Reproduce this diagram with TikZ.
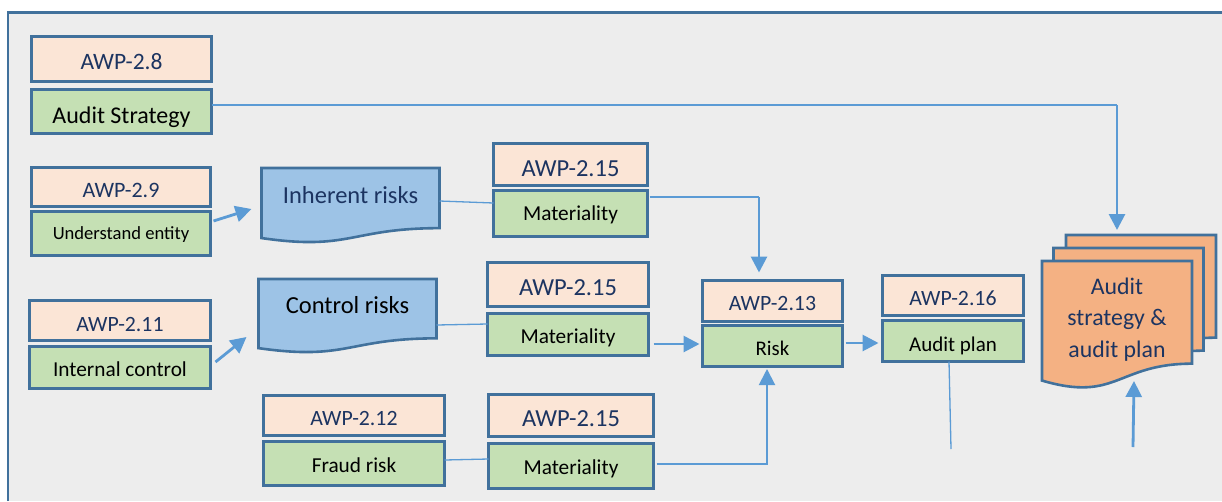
\documentclass[tikz,border=0pt]{standalone}
\usepackage{fontspec}
\setmainfont{Carlito}
\usetikzlibrary{arrows.meta,calc}

\definecolor{framec}{HTML}{41719C}
\definecolor{linkc}{HTML}{5B9BD5}
\definecolor{paper}{HTML}{EDEDED}
\definecolor{pinkf}{HTML}{FBE5D6}
\definecolor{greenf}{HTML}{C5E0B4}
\definecolor{bluef}{HTML}{9DC3E6}
\definecolor{orangef}{HTML}{F4B183}
\definecolor{navy}{HTML}{1C3461}

\pgfdeclarelayer{framelayer}
\pgfdeclarelayer{sheets}
\pgfsetlayers{framelayer,sheets,main}

\newcommand\fs[1]{\fontsize{#1}{#1}\selectfont}

% outline of a document sheet (wavy bottom) around a named node
\newcommand\sheetoutline[2]{%
  \path[sheetline, fill=#2] (#1.north west) -- (#1.north east)
    -- ($(#1.north east)!0.802!(#1.south east)$)
    .. controls ($(#1.north)!0.802!(#1.south)$) and ($(#1.north)!1.107!(#1.south)$)
    .. ($(#1.north west)!0.934!(#1.south west)$) -- cycle;}

\tikzset{
  box/.style={draw=framec, line width=2.8pt, inner sep=0pt, outer sep=0pt, text depth=0pt},
  awp/.style={box, fill=pinkf, text=navy},
  task/.style={box, fill=greenf, text=black},
  sheet/.style={inner sep=0pt, outer sep=0pt},
  sheetline/.style={draw=framec, line width=2.6pt, line join=miter},
  thinlink/.style={draw=linkc, line width=1.3pt},
  link/.style={draw=linkc, line width=2.8pt, -{Triangle[length=16pt,width=16pt]}},
}

\begin{document}
\begin{tikzpicture}[x=1pt, y=-1pt]
\useasboundingbox (0,0) rectangle (1222,501);

% outer panel
\begin{pgfonlayer}{framelayer}
  \fill[white] (0,0) rectangle (1222,501);
  \fill[paper] (8,12.5) rectangle (1222,501);
  \draw[framec, line width=2.2pt] (8,501) -- (8,12.5) -- (1222,12.5);
\end{pgfonlayer}

% left column
\node[awp, minimum width=180pt, minimum height=45pt, text height=20pt, font=\fs{23.5}] (a28) at (121.5,59) {AWP-2.8};
\node[task, minimum width=180pt, minimum height=44pt, text height=23pt, font=\fs{24}] (s28) at (121.5,111.5) {Audit Strategy};
\node[awp, minimum width=179pt, minimum height=39pt, text height=20pt, font=\fs{22}] (a29) at (121,187) {AWP-2.9};
\node[task, minimum width=179pt, minimum height=44pt, text height=12pt, font=\fs{18.6}] (s29) at (121,233.5) {Understand entity};
\node[awp, minimum width=181pt, minimum height=40pt, text height=21pt, font=\fs{21.8}] (a211) at (120,320.5) {AWP-2.11};
\node[task, minimum width=181pt, minimum height=42pt, text height=17pt, font=\fs{21.3}] (s211) at (120,367.5) {Internal control};

% risk sheets
\node[sheet, minimum width=178pt, minimum height=75pt, text height=0pt, text depth=5pt, font=\fs{24.5}, text=navy] (ir) at (350.5,205.5) {Inherent risks};
\node[sheet, minimum width=178pt, minimum height=74pt, text height=0pt, text depth=6pt, font=\fs{24.5}, text=black] (cr) at (347.5,316) {Control risks};

% fraud risk
\node[awp, minimum width=181pt, minimum height=40pt, text height=20pt, font=\fs{21.8}] (a212) at (354,415.5) {AWP-2.12};
\node[task, minimum width=181pt, minimum height=44pt, text height=18pt, font=\fs{21.3}] (f212) at (354,463.5) {Fraud risk};

% materiality column
\node[awp, minimum width=154pt, minimum height=42pt, text height=23pt, font=\fs{24.5}] (a215a) at (570.5,164.5) {AWP-2.15};
\node[task, minimum width=154pt, minimum height=46pt, text height=13pt, font=\fs{21.3}] (m1) at (570.5,213.5) {Materiality};
\node[awp, minimum width=161pt, minimum height=44pt, text height=21pt, font=\fs{24.5}] (a215b) at (568,284.5) {AWP-2.15};
\node[task, minimum width=161pt, minimum height=42pt, text height=18pt, font=\fs{21.3}] (m2) at (568,334.5) {Materiality};
\node[awp, minimum width=165pt, minimum height=42pt, text height=22pt, font=\fs{24.5}] (a215c) at (571,415.5) {AWP-2.15};
\node[task, minimum width=165pt, minimum height=45pt, text height=16pt, font=\fs{21.3}] (m3) at (571,466) {Materiality};

% risk and audit plan
\node[awp, minimum width=140pt, minimum height=41pt, text height=18pt, font=\fs{21.8}] (a213) at (772.5,301) {AWP-2.13};
\node[task, minimum width=140pt, minimum height=41pt, text height=18pt, font=\fs{20.8}] (r213) at (772.5,346) {Risk};
\node[awp, minimum width=141pt, minimum height=40pt, text height=20pt, font=\fs{21.8}] (a216) at (953,295.5) {AWP-2.16};
\node[task, minimum width=141pt, minimum height=41pt, text height=20pt, font=\fs{21}] (p216) at (953,341) {Audit plan};

% stacked output documents
\node[sheet, minimum width=150pt, minimum height=128pt] (docc) at (1141,299) {};
\node[sheet, minimum width=150pt, minimum height=128pt] (docb) at (1128.5,312) {};
\node[sheet, minimum width=150pt, minimum height=128pt] (doc) at (1117,325) {};
\node[align=center, inner sep=0pt, font=\fontsize{23.8}{31.5}\selectfont, text=navy] (doctext) at (1117,319.5) {Audit\\strategy \&\\audit plan};

\begin{pgfonlayer}{sheets}
  \sheetoutline{ir}{bluef}
  \sheetoutline{cr}{bluef}
  \sheetoutline{docc}{orangef}
  \sheetoutline{docb}{orangef}
  \sheetoutline{doc}{orangef}
\end{pgfonlayer}

% connectors
\coordinate (k1) at (1117,105);
\coordinate (stk) at (1117,230);
\draw[thinlink] ([yshift=6.5pt]s28.east) -- (k1);
\draw[link] (k1) -- (stk);

\draw[link] ([xshift=3pt,yshift=12.5pt]s29.east) -- ([xshift=-10pt,yshift=-3.5pt]ir.west);
\draw[link] ([xshift=5pt,yshift=5.5pt]s211.east) -- ([xshift=-12pt,yshift=-21pt]cr.west);

\draw[thinlink] ([yshift=4.5pt]ir.east) -- ([yshift=10.5pt]m1.west);
\coordinate (k5) at (759,197);
\draw[thinlink] ([xshift=2pt,yshift=16.5pt]m1.east) -- (k5);
\draw[link, shorten >=8pt] (k5) -- (k5 |- a213.north);

\draw[thinlink] ([yshift=-9pt]cr.east) -- ([yshift=10.5pt]m2.west);
\draw[link] ([xshift=5pt,yshift=-9.5pt]m2.east) -- ([xshift=-3pt,yshift=2pt]r213.west);

\draw[thinlink] ([yshift=3.5pt]f212.east) -- ([yshift=7pt]m3.west);
\draw[link, line width=2pt] ([xshift=3pt,yshift=2pt]m3.east) -| ([xshift=-5.5pt,yshift=-2.5pt]r213.south);

\draw[link] ([xshift=3pt,yshift=3pt]r213.east) -- ([xshift=-4pt,yshift=-2pt]p216.west);

\coordinate (k11) at (951,449);
\draw[thinlink] ([xshift=-4pt]p216.south) -- (k11);

% upward arrow into the bottom of the front document
\coordinate (k12) at (1133,447);
\coordinate (k12t) at (1134,381);
\draw[link] (k12) -- (k12t);
\end{tikzpicture}
\end{document}
